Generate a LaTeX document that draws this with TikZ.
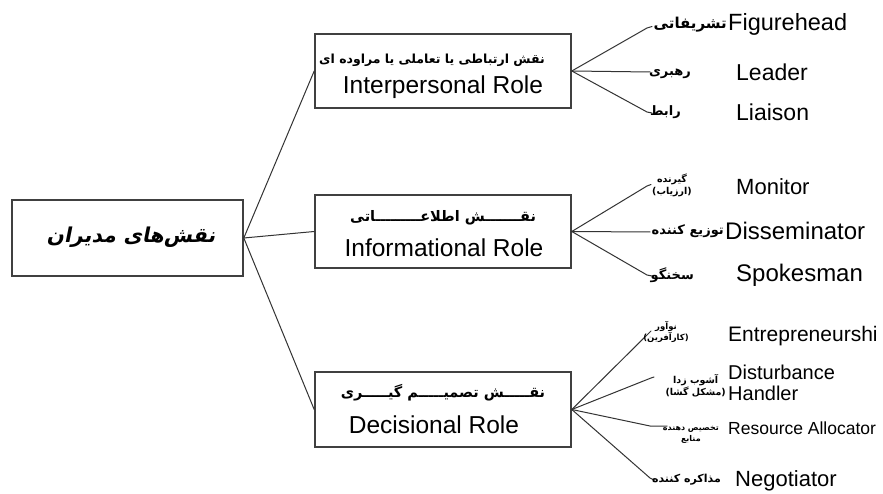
\documentclass[tikz,border=0pt]{standalone}
\usepackage{fontspec}
\setmainfont{Liberation Sans}
\newfontfamily\fa[Script=Arabic]{DejaVu Sans Bold}
\newfontfamily\faroot[Script=Arabic,FakeSlant=0.2]{DejaVu Sans Bold}
\TeXXeTstate=1
\newcommand{\rtl}[1]{\beginR #1\endR}
\begin{document}
\begin{tikzpicture}[x=1pt,y=-1pt,
  box/.style={draw=black!75,line width=1.6pt,inner sep=0pt},
  link/.style={draw=black!80,line width=1pt,line cap=round,line join=round},
  en/.style={anchor=west,inner sep=0pt,font=\fontsize{23}{25}\selectfont},
  fal/.style={inner sep=0pt,align=center,font=\fa\fontsize{13}{14}\selectfont},
  fal2/.style={inner sep=0pt,align=center,font=\fa\fontsize{9.5}{12}\selectfont},
  fabox/.style={inner sep=0pt,font=\fa\fontsize{14.5}{16}\selectfont},
  enbox/.style={inner sep=0pt,font=\fontsize{24.5}{26}\selectfont}]
\useasboundingbox[fill=white] (0,0) rectangle (883,494);
% root
\node[box,minimum width=231pt,minimum height=76pt] (root) at (127.5,238) {};
\node[inner sep=0pt,font=\faroot\fontsize{20.5}{24}\selectfont] (roottxt) at (131,237) {\rtl{نقش‌های مدیران}};
% middle boxes
\node[box,minimum width=256pt,minimum height=74pt] (ip) at (443,71) {};
\node[fabox,font=\fa\fontsize{12.5}{14}\selectfont] (ipfa) at (432,60) {\rtl{نقش ارتباطی یا تعاملی یا مراوده ای}};
\node[enbox] (ipen) at (443,87) {Interpersonal Role};
\node[box,minimum width=256pt,minimum height=73pt] (inf) at (443,231.5) {};
\node[fabox] (inffa) at (443,218) {\rtl{نقـــــــش اطلاعـــــــــاتی}};
\node[enbox] (infen) at (444,248) {Informational Role};
\node[box,minimum width=256pt,minimum height=75pt] (dec) at (443,409.5) {};
\node[fabox] (decfa) at (443,393) {\rtl{نقـــــش تصمیـــــم گیـــــری}};
\node[enbox] (decen) at (434,425) {Decisional Role};
% root links
\draw[link] (root.east) -- (ip.west);
\draw[link] (root.east) -- (inf.west);
\draw[link] (root.east) -- (dec.west);
% leaf ends
\coordinate (e1) at (647,28);
\coordinate (e2) at (650,72);
\coordinate (e3) at (647,112);
\coordinate (e4) at (647,186);
\coordinate (e5) at (650,232);
\coordinate (e6) at (647,275);
\coordinate (e7) at (651,331);
\coordinate (e8) at (651,378);
\coordinate (e9) at (650,426);
\coordinate (e10) at (650,478);
\draw[link] (ip.east) -- (e1) -- ++(5,-1.5);
\draw[link] (ip.east) -- (e2);
\draw[link] (ip.east) -- (e3) -- ++(5,1);
\draw[link] (inf.east) -- (e4) -- ++(4,-1.5);
\draw[link] (inf.east) -- (e5);
\draw[link] (inf.east) -- (e6) -- ++(5,1);
\draw[link] (dec.east) -- (e7);
\draw[link] (dec.east) -- (e8) -- ++(3,-1);
\draw[link] (dec.east) -- (e9) -- ++(17,0);
\draw[link] (dec.east) -- (e10) -- ++(4,2);
% persian leaf labels
\node[fal,anchor=east,font=\fa\fontsize{15}{16}\selectfont] (f1) at (727,25) {\rtl{تشریفاتی}};
\node[fal,anchor=east] (f2) at (691,74) {\rtl{رهبری}};
\node[fal,anchor=east] (f3) at (681,112) {\rtl{رابط}};
\node[fal2] (f4) at (672,185) {\rtl{گیرنده}\\\rtl{(ارزیاب)}};
\node[fal,anchor=east] (f5) at (724,231) {\rtl{توزیع کننده}};
\node[fal,anchor=east] (f6) at (694,275) {\rtl{سخنگو}};
\node[fal2,font=\fa\fontsize{8.5}{11}\selectfont] (f7) at (666,332) {\rtl{نوآور}\\\rtl{(کارآفرین)}};
\node[fal2,anchor=east] (f8) at (726,386) {\rtl{آشوب زدا}\\\rtl{(مشکل گشا)}};
\node[fal2,anchor=east,font=\fa\fontsize{8}{11}\selectfont] (f9) at (719,435) {\rtl{تخصیص دهنده}\\\rtl{منابع}};
\node[fal,anchor=east,font=\fa\fontsize{11}{13}\selectfont] (f10) at (721,480) {\rtl{مذاکره کننده}};
% english leaf labels
\node[en,font=\fontsize{23.5}{25}\selectfont] (l1) at (728,24) {Figurehead};
\node[en] (l2) at (736,72) {Leader};
\node[en] (l3) at (736,112) {Liaison};
\node[en,font=\fontsize{22}{24}\selectfont] (l4) at (736,187) {Monitor};
\node[en,font=\fontsize{24}{26}\selectfont] (l5) at (725,231) {Disseminator};
\node[en,font=\fontsize{24}{26}\selectfont] (l6) at (736,275) {Spokesman};
\node[en,font=\fontsize{21}{23}\selectfont] (l7) at (728,336) {Entrepreneurshi};
\node[en,font=\fontsize{20}{22}\selectfont] (l8) at (728,372) {Disturbance};
\node[en,font=\fontsize{20}{22}\selectfont] (l9) at (728,393) {Handler};
\node[en,font=\fontsize{17.5}{20}\selectfont] (l10) at (728,428) {Resource Allocator};
\node[en,font=\fontsize{22}{24}\selectfont] (l11) at (735,481) {Negotiator};
\end{tikzpicture}
\end{document}
